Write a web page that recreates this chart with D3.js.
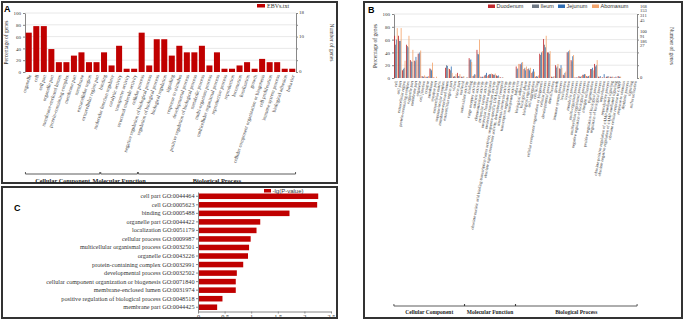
<!DOCTYPE html>
<html>
<head>
<meta charset="utf-8">
<script src="https://cdn.jsdelivr.net/npm/d3@7"></script>
<style>
  body { margin: 0; background: #fff; }
  svg { display: block; }
  text { font-family: "Liberation Serif", "DejaVu Serif", serif; }
</style>
</head>
<body>
<div id="chart"></div>
<script>
// ---- Panel A data (WEGO, one sample) ----
const aCategories = [
  'organelle', 'cell', 'cell part', 'organelle part', 'membrane-enclosed lumen',
  'protein-containing complex', 'membrane part', 'membrane', 'extracellular region',
  'extracellular region part', 'binding', 'molecular function regulator',
  'catalytic activity', 'transporter activity', 'structural molecule activity',
  'cellular process', 'negative regulation of biological process',
  'regulation of biological process', 'biological regulation', 'signaling',
  'response to stimulus', 'developmental process', 'positive regulation of biological process',
  'metabolic process', 'multi-organism process', 'multicellular organismal process',
  'reproductive process', 'reproduction', 'locomotion', 'localization', 'growth',
  'cellular component organization or biogenesis', 'cell proliferation',
  'immune system process', 'biological adhesion', 'behavior'
];
const aCounts = [12, 14, 14, 7, 3, 3, 5, 6, 3, 3, 6, 2, 8, 1, 1, 12, 2, 10, 10, 5,
  8, 6, 6, 8, 2, 6, 1, 1, 2, 3, 1, 4, 3, 3, 1, 1];
const aTotalGenes = 18;
const aGroupNames = ['Cellular Component', 'Molecular Function', 'Biological Process'];
const aGroupSizes = [10, 5, 21];
const aLegend = 'EBVs.txt';

// ---- Panel B data (four tissues) ----
const bSeries = ['Duodenum', 'Ileum', 'Jejunum', 'Abomasum'];
const bTotals = [168, 153, 311, 45];
const bCategories = [
  'cell', 'cell part', 'extracellular region', 'protein-containing complex', 'organelle part',
  'membrane part', 'organelle', 'cell junction', 'synapse', 'membrane', 'synapse part',
  'extracellular matrix', 'supramolecular complex', 'membrane-enclosed lumen',
  'extracellular region part', 'virion', 'virion part', 'nucleoid',
  'antioxidant activity', 'binding', 'cargo receptor activity', 'catalytic activity',
  'chemoattractant activity', 'molecular carrier activity', 'molecular function regulator',
  'molecular transducer activity',
  'obsolete nucleic acid binding transcription factor activity, sequence-specific DNA binding',
  'obsolete signal transducer activity, downstream of receptor',
  'structural molecule activity', 'transcription regulator activity', 'transporter activity',
  'behavior', 'biological adhesion', 'biological phase', 'biological regulation',
  'cell aggregation', 'cell killing', 'cellular component organization or biogenesis',
  'cellular process', 'developmental process', 'detoxification', 'growth',
  'immune system process', 'localization', 'locomotion', 'metabolic process',
  'multi-organism process', 'multicellular organismal process',
  'negative regulation of biological process', 'nitrogen utilization', 'pigmentation',
  'positive regulation of biological process', 'regulation of biological process',
  'reproduction', 'reproductive process',
  'obsolete positive regulation of cAMP-mediated signaling',
  'obsolete negative regulation of cAMP-mediated signaling',
  'obsolete cellular response to cAMP', 'response to stimulus', 'rhythmic process',
  'signaling', 'sulfur utilization'
];
const duodenum = [66, 66, 12, 52, 28, 27, 38, 3, 2, 15, 1, 0, 0, 16, 14, 2, 8, 2,
  0, 31, 3, 44, 2, 4, 5, 6, 4, 1, 0, 0, 0,
  18, 22, 14, 14, 8, 2, 38, 61, 40, 2, 20, 15, 5, 40, 28, 1, 3, 5, 3, 14, 22, 2, 1, 2, 2, 1, 3, 0, 0, 0, 0];
const ileum = [52, 58, 14, 50, 26, 26, 38, 2, 1, 14, 0, 0, 0, 20, 12, 3, 3, 1,
  0, 28, 4, 38, 1, 5, 6, 5, 3, 0, 0, 0, 0,
  14, 20, 16, 15, 10, 3, 36, 52, 40, 1, 16, 14, 4, 40, 26, 0, 2, 5, 2, 14, 18, 1, 0, 2, 1, 0, 2, 0, 0, 0, 0];
const jejunum = [60, 58, 16, 48, 25, 33, 40, 2, 2, 12, 0, 0, 0, 19, 18, 2, 3, 2,
  1, 29, 6, 37, 2, 8, 6, 5, 4, 1, 0, 0, 0,
  15, 24, 12, 12, 14, 2, 40, 48, 38, 2, 18, 20, 8, 42, 34, 1, 2, 6, 3, 16, 20, 3, 6, 3, 2, 2, 2, 0, 0, 0, 0];
const abomasum = [78, 78, 27, 66, 44, 28, 43, 4, 3, 24, 2, 0, 0, 15, 8, 6, 6, 3,
  1, 25, 5, 60, 2, 3, 7, 7, 2, 1, 0, 0, 0,
  22, 25, 18, 16, 10, 4, 42, 66, 42, 3, 22, 16, 10, 44, 36, 1, 3, 6, 4, 12, 28, 1, 1, 2, 2, 1, 2, 0, 0, 0, 0];
const bGroupSizes = [18, 13, 31];

// ---- Panel C data (enrichment) ----
const cTerms = [
  'cell part', 'cell', 'binding', 'organelle part', 'localization', 'cellular process',
  'multicellular organismal process', 'organelle', 'protein-containing complex',
  'developmental process', 'cellular component organization or biogenesis',
  'membrane-enclosed lumen', 'positive regulation of biological process', 'membrane part'
];
const cIds = [
  'GO:0044464', 'GO:0005623', 'GO:0005488', 'GO:0044422', 'GO:0051179', 'GO:0009987',
  'GO:0032501', 'GO:0043226', 'GO:0032991', 'GO:0032502', 'GO:0071840', 'GO:0031974',
  'GO:0048518', 'GO:0044425'
];
const cValues = [2.26, 2.24, 1.72, 1.17, 1.10, 0.99, 0.96, 0.94, 0.85, 0.73, 0.71, 0.71, 0.46, 0.36];
const cTicks = [0, 0.5, 1, 1.5, 2, 2.5];
const cLegend = '-lg(P-value)';

const pctTicks = [0, 20, 40, 60, 80, 100];
const countTicks = [0, 60, 100];
const RED = '#c00000';
const seriesColors = ['#c0282d', '#6f7884', '#2f6db3', '#f3a46c'];

const svg = d3.select('#chart').append('svg')
  .attr('width', 685)
  .attr('height', 321);

function panelBox(x, y, w, h) {
  svg.append('rect')
    .attr('x', x).attr('y', y)
    .attr('width', w).attr('height', h)
    .attr('fill', 'none')
    .attr('stroke', '#333')
    .attr('stroke-width', 2);
}

function panelLetter(t, x, y) {
  svg.append('text')
    .attr('x', x).attr('y', y)
    .style('font-family', '"Liberation Sans", Arial, sans-serif')
    .style('font-weight', 'bold')
    .style('font-size', '9px')
    .text(t);
}

function styleAxis(g, size) {
  g.selectAll('path, line').attr('stroke', '#888');
  g.selectAll('text').style('font-size', size + 'px').attr('fill', '#333');
}

// brackets under a band axis
function brackets(x, cats, sizes, names, yLine, yText, fontSize) {
  let start = 0;
  sizes.forEach((n, i) => {
    const first = cats[start];
    const last = cats[start + n - 1];
    const x0 = x(first) - 0.3;
    const x1 = x(last) + x.bandwidth() + 0.3;
    svg.append('path')
      .attr('d', `M${x0},${yLine - 2}V${yLine}H${x1}V${yLine - 2}`)
      .attr('fill', 'none')
      .attr('stroke', '#333')
      .attr('stroke-width', 0.8);
    svg.append('text')
      .attr('x', (x0 + x1) / 2)
      .attr('y', yText)
      .attr('text-anchor', 'middle')
      .style('font-weight', 'bold')
      .style('font-size', fontSize + 'px')
      .attr('fill', '#222')
      .text(names[i]);
    start += n;
  });
}

// percentage/number of genes chart (WEGO style)
function wegoFrame(x, y, left, right, rightLabels) {
  const [bottom, top] = y.range();
  svg.append('g')
    .selectAll('line')
    .data(pctTicks.slice(1))
    .join('line')
    .attr('x1', left).attr('x2', right)
    .attr('y1', d => y(d)).attr('y2', d => y(d))
    .attr('stroke', '#e2e2e2')
    .attr('stroke-width', 0.8);
  const gl = svg.append('g')
    .attr('transform', `translate(${left},0)`)
    .call(d3.axisLeft(y).tickValues(pctTicks).tickSize(2).tickPadding(2).tickSizeOuter(0));
  styleAxis(gl, 5);
  const gr = svg.append('g')
    .attr('transform', `translate(${right},0)`)
    .call(d3.axisRight(y).tickValues(pctTicks).tickSize(2).tickSizeOuter(0).tickFormat(''));
  styleAxis(gr, 5);
  svg.append('text')
    .attr('transform', `translate(${left - 17},${(top + bottom) / 2}) rotate(-90)`)
    .attr('text-anchor', 'middle')
    .style('font-size', '5.5px')
    .attr('fill', '#333')
    .text('Percentage of genes');
  svg.append('text')
    .attr('transform', `translate(${right + rightLabels},${(top + bottom) / 2}) rotate(90)`)
    .attr('text-anchor', 'middle')
    .style('font-size', '5.5px')
    .attr('fill', '#333')
    .text('Number of genes');
}

// ---------------- Panel A ----------------
panelBox(2, 2, 335, 181);
panelLetter('A', 4, 12);
{
  const x = d3.scaleBand().domain(aCategories).range([25, 296]).paddingInner(0.2).paddingOuter(0.1);
  const y = d3.scaleLinear().domain([0, 100]).range([72, 13]);
  wegoFrame(x, y, 25, 296, 34);

  svg.append('g')
    .selectAll('text')
    .data(countTicks)
    .join('text')
    .attr('x', 299)
    .attr('y', d => y(d))
    .attr('dominant-baseline', 'middle')
    .style('font-size', '5px')
    .attr('fill', '#333')
    .text(d => Math.floor(aTotalGenes * d / 100));

  svg.append('g')
    .selectAll('rect')
    .data(aCounts)
    .join('rect')
    .attr('x', (d, i) => x(aCategories[i]))
    .attr('y', d => y(d / aTotalGenes * 100))
    .attr('width', x.bandwidth())
    .attr('height', d => y(0) - y(d / aTotalGenes * 100))
    .attr('fill', RED);

  svg.append('g')
    .selectAll('text')
    .data(aCategories)
    .join('text')
    .attr('transform', d => `translate(${x(d) + x.bandwidth() / 2 + 1.5},75) rotate(-72)`)
    .attr('text-anchor', 'end')
    .attr('dominant-baseline', 'middle')
    .style('font-size', '5px')
    .attr('fill', '#333')
    .text(d => d);

  brackets(x, aCategories, aGroupSizes, aGroupNames, 174, 182.5, 6.3);

  svg.append('rect')
    .attr('x', 257).attr('y', 4)
    .attr('width', 8).attr('height', 3.5)
    .attr('fill', RED);
  svg.append('text')
    .attr('x', 267).attr('y', 8)
    .style('font-size', '6px')
    .attr('fill', '#333')
    .text(aLegend);
}

// ---------------- Panel B ----------------
panelBox(364, 2, 318, 316);
panelLetter('B', 368, 13);
{
  const values = [duodenum, ileum, jejunum, abomasum];
  const x = d3.scaleBand().domain(bCategories).range([394, 637]).paddingInner(0.12).paddingOuter(0.05);
  const xs = d3.scaleBand().domain(bSeries).range([0, x.bandwidth()]).padding(0.04);
  const y = d3.scaleLinear().domain([0, 100]).range([78, 14]);
  wegoFrame(x, y, 394, 637, 33);

  const offsets = [-7.5, -2.8, 2, 6.8];
  countTicks.filter(t => t > 0).forEach(t => {
    bTotals.forEach((n, j) => {
      svg.append('text')
        .attr('x', 640)
        .attr('y', y(t) + offsets[j])
        .attr('dominant-baseline', 'middle')
        .style('font-size', '4.6px')
        .attr('fill', '#333')
        .text(Math.floor(n * t / 100));
    });
  });
  svg.append('text')
    .attr('x', 640).attr('y', y(0))
    .attr('dominant-baseline', 'middle')
    .style('font-size', '4.6px')
    .attr('fill', '#333')
    .text('0');

  bSeries.forEach((s, j) => {
    svg.append('g')
      .selectAll('rect')
      .data(values[j])
      .join('rect')
      .attr('x', (d, i) => x(bCategories[i]) + xs(s))
      .attr('y', d => y(d))
      .attr('width', xs.bandwidth())
      .attr('height', d => y(0) - y(d))
      .attr('fill', seriesColors[j]);
  });

  svg.append('g')
    .selectAll('text')
    .data(bCategories)
    .join('text')
    .attr('transform', d => `translate(${x(d) + x.bandwidth() / 2 + 0.8},81) rotate(-80)`)
    .attr('text-anchor', 'end')
    .attr('dominant-baseline', 'middle')
    .style('font-size', '4.2px')
    .attr('fill', '#333')
    .text(d => d);

  brackets(x, bCategories, bGroupSizes, aGroupNames, 306, 314, 5.5);

  // legend
  const legendX = [488, 532, 558, 592];
  bSeries.forEach((s, j) => {
    svg.append('rect')
      .attr('x', legendX[j]).attr('y', 4.5)
      .attr('width', 7).attr('height', 3.5)
      .attr('fill', seriesColors[j]);
    svg.append('text')
      .attr('x', legendX[j] + 8.5).attr('y', 8.3)
      .style('font-family', '"Liberation Sans", Arial, sans-serif')
      .style('font-size', '5.5px')
      .attr('fill', '#333')
      .text(s);
  });
}

// ---------------- Panel C ----------------
panelBox(2, 187, 335, 131);
panelLetter('C', 14, 211);
{
  const labels = cTerms.map((t, i) => t + ' ' + cIds[i]);
  const y = d3.scaleBand().domain(labels).range([192, 311.5]).paddingInner(0.35).paddingOuter(0.175);
  const x = d3.scaleLinear().domain([0, 2.5]).range([198, 331]);

  svg.append('g')
    .selectAll('rect')
    .data(cValues)
    .join('rect')
    .attr('x', x(0))
    .attr('y', (d, i) => y(labels[i]))
    .attr('width', d => x(d) - x(0))
    .attr('height', y.bandwidth())
    .attr('fill', RED);

  const gy = svg.append('g')
    .attr('transform', `translate(${x(0)},0)`)
    .call(d3.axisLeft(y).tickSize(2).tickPadding(1.5).tickSizeOuter(0));
  styleAxis(gy, 6.2);

  const gx = svg.append('g')
    .attr('transform', 'translate(0,311.5)')
    .call(d3.axisBottom(x).tickValues(cTicks).tickSize(2).tickPadding(1.5).tickSizeOuter(0).tickFormat(d3.format('')));
  styleAxis(gx, 6.3);

  svg.append('rect')
    .attr('x', 264).attr('y', 189)
    .attr('width', 7).attr('height', 3.5)
    .attr('fill', RED);
  svg.append('text')
    .attr('x', 272.5).attr('y', 193)
    .style('font-family', '"Liberation Sans", Arial, sans-serif')
    .style('font-size', '6px')
    .attr('fill', '#333')
    .text(cLegend);
}
</script>
</body>
</html>
